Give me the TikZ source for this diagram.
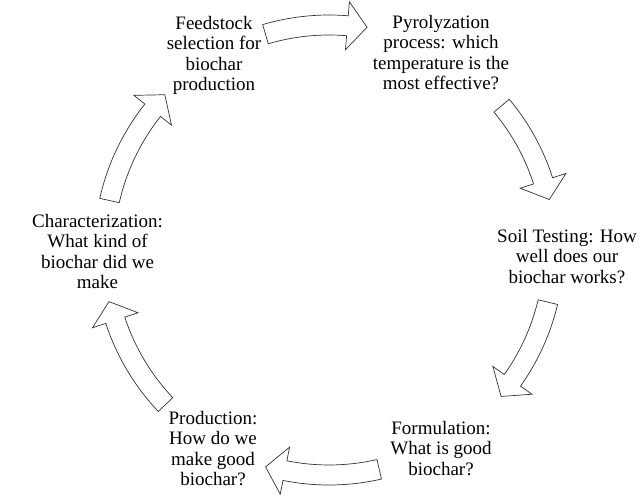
\documentclass[tikz,border=0pt]{standalone}
\usepackage{fontspec}
\setmainfont{Liberation Serif}
\usepackage{tikz}
\usetikzlibrary{positioning}

\begin{document}
\begin{tikzpicture}[x=1pt, y=1pt, every node/.style={
    inner sep=0pt, align=center, font=\fontsize{19}{20.5}\selectfont},
    blockarrow/.style={draw=black!80, line width=0.7pt, fill=white, line join=miter}]
  \useasboundingbox (0,0) rectangle (640,500);
  \coordinate (c) at (329,250);
  \node (feed) at (214,444.5) {Feedstock\\selection for\\biochar\\production};
  \node (pyro) at (441,447.5) {Pyrolyzation\\process: which\\temperature is the\\most effective?};
  \node (soil) at (567,243.5) {Soil Testing: How\\well does our\\biochar works?};
  \node (form) at (441,51.5)  {Formulation:\\What is good\\biochar?};
  \node (prod) at (213,51.5)  {Production:\\How do we\\make good\\biochar?};
  \node (char) at (97.5,248.5) {Characterization:\\What kind of\\biochar did we\\make};
  % curved block arrows round the cycle (tail angle / tip angle)
  \foreach \a/\b in {106.4/80.3, 39.9/12.9, -13.4/-40.4,
                     -77.1/-106.3, -136.6/-166.8, 167.3/136.6} {
    \pgfmathsetmacro\h{\b+5}
    \draw[blockarrow, shift={(c)}]
      (\a:235pt) arc[start angle=\a, end angle=\h, radius=235pt]
      -- (\h:249pt) -- (\b:226pt) -- (\h:201pt) -- (\h:215pt)
      arc[start angle=\h, end angle=\a, radius=215pt] -- cycle;
  }
\end{tikzpicture}
\end{document}
